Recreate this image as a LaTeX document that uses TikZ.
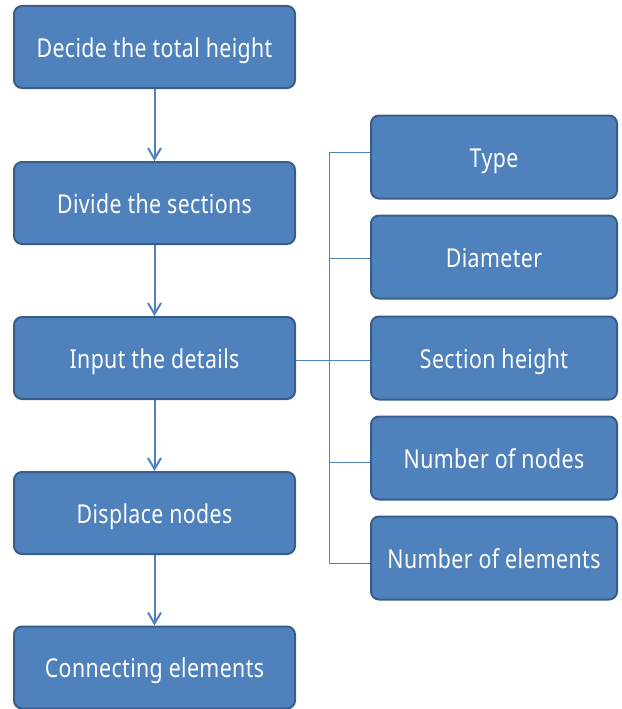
\documentclass[tikz,border=0pt]{standalone}
\usepackage{fontspec}
\setmainfont[FakeStretch=0.82,LetterSpace=1.5]{Noto Sans}
\usetikzlibrary{arrows.meta}
\definecolor{boxfill}{HTML}{4F81BD}
\definecolor{boxline}{HTML}{385D8A}
\definecolor{wire}{HTML}{4F81BD}
\begin{document}
\begin{tikzpicture}[x=1pt,y=-1pt,
  flowbox/.style={draw=boxline,line width=2pt,fill=boxfill,rounded corners=8pt,
    minimum width=281pt,minimum height=82pt,text=white,font=\fontsize{26}{30}\selectfont,
    inner sep=0pt,text height=21pt,text depth=1pt},
  sidebox/.style={flowbox,minimum width=246pt,minimum height=83pt},
  flowarrow/.style={draw=wire,line width=2pt,-{Straight Barb[length=11pt,width=13pt,line width=2pt]}},
  wireline/.style={draw=wire,line width=1pt}]
\useasboundingbox (0,0) rectangle (621,709);
\node[flowbox] (dec) at (154.5,47) {Decide the total height};
\node[flowbox] (div) at (154.5,203) {Divide the sections};
\node[flowbox] (inp) at (154.5,358) {Input the details};
\node[flowbox] (dis) at (154.5,513) {Displace nodes};
\node[flowbox] (con) at (154.5,667.5) {Connecting elements};
\node[sidebox] (typ) at (494,157) {Type};
\node[sidebox] (dia) at (494,257) {Diameter};
\node[sidebox] (sec) at (494,358) {Section height};
\node[sidebox] (nod) at (494,458) {Number of nodes};
\node[sidebox] (ele) at (494,558) {Number of elements};
\draw[flowarrow] (dec) -- (div);
\draw[flowarrow] (div) -- (inp);
\draw[flowarrow] (inp) -- (dis);
\draw[flowarrow] (dis) -- (con);
\coordinate (bustop) at (329,152);
\coordinate (busbot) at (329,563);
\draw[wireline] (bustop) -- (busbot);
\draw[wireline] (bustop) -- (bustop -| typ.west);
\draw[wireline] ([yshift=-1pt]dia.west) -- ([yshift=-1pt]dia.west -| bustop);
\draw[wireline] ([yshift=-2pt]inp.east) -- ([yshift=-2pt]sec.west);
\draw[wireline] ([yshift=-4pt]nod.west) -- ([yshift=-4pt]nod.west -| bustop);
\draw[wireline] (busbot) -- (busbot -| ele.west);
\end{tikzpicture}
\end{document}
